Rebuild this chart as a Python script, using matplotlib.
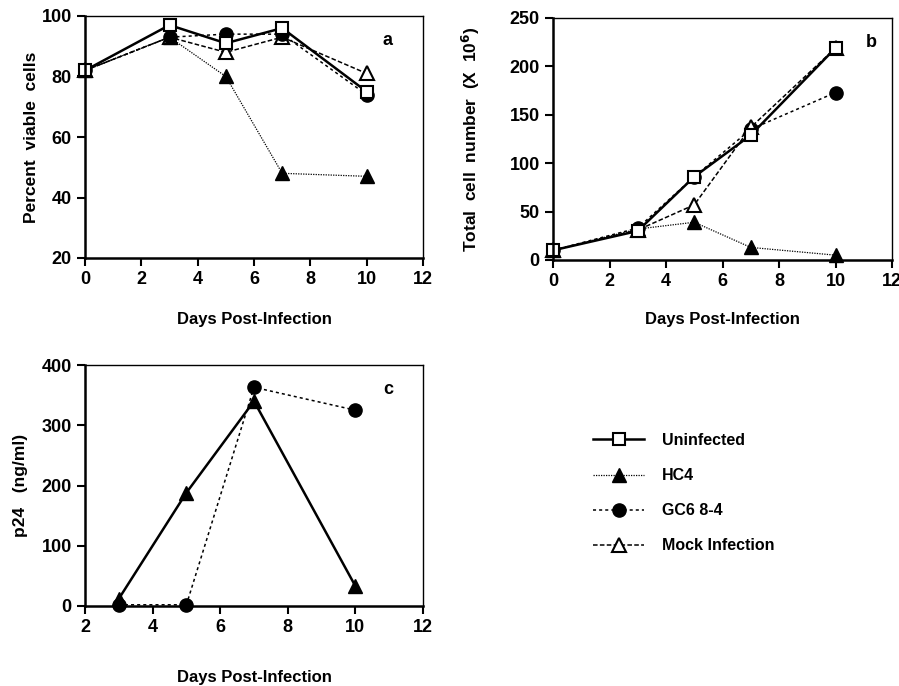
"""Viability, cell count and p24 time courses (panels a, b, c)."""

import matplotlib
matplotlib.use("Agg")
import matplotlib.pyplot as plt
from matplotlib.lines import Line2D

plt.rcParams["font.family"] = ["Liberation Sans", "DejaVu Sans"]
plt.rcParams["font.weight"] = "bold"
plt.rcParams["mathtext.default"] = "regular"

days = [0, 3, 5, 7, 10]

# panel a: percent viable cells
viab_uninf = [82, 97, 91, 96, 75]
viab_hc4 = [82, 93, 80, 48, 47]
viab_gc6 = [82, 93, 94, 94, 74]
viab_mock = [82, 93, 88, 93, 81]

# panel b: total cell number (x 10^6)
cells_uninf = [10, 30, 86, 129, 219]
cells_hc4 = [10, 32, 39, 13, 5]
cells_gc6 = [10, 33, 86, 135, 173]
cells_mock = [10, 31, 57, 137, 219]

# panel c: p24 (ng/ml)
p24_days = [3, 5, 7, 10]
p24_hc4 = [12, 188, 340, 33]
p24_gc6 = [2, 2, 363, 325]

labels = ["Uninfected", "HC4", "GC6 8-4", "Mock Infection"]

STYLES = {
    "Uninfected": dict(color="black", lw=1.8, ls="-", marker="s", ms=9, mfc="white", mec="black", mew=1.5),
    "HC4": dict(color="black", lw=0.9, ls=(0, (1, 1)), marker="^", ms=10, mfc="black", mec="black"),
    "GC6 8-4": dict(color="black", lw=1.1, ls=(0, (2, 2)), marker="o", ms=9.5, mfc="black", mec="black"),
    "Mock Infection": dict(color="black", lw=1.1, ls=(0, (3, 1.5)), marker="^", ms=10, mfc="white", mec="black", mew=1.5),
}


def style_axes(ax, xlim, ylim, yticks, xticks, letter, letter_x, xpad):
    ax.set_xlim(*xlim)
    ax.set_ylim(*ylim)
    ax.set_xticks(xticks)
    ax.set_yticks(yticks)
    ax.tick_params(direction="out", length=6, width=1.5, labelsize=13, top=False, right=False)
    for lab in ax.get_xticklabels() + ax.get_yticklabels():
        lab.set_fontweight("bold")
    for side in ["left", "bottom"]:
        ax.spines[side].set_linewidth(1.8)
    for side in ["top", "right"]:
        ax.spines[side].set_linewidth(1.0)
    ax.text(letter_x, 0.9, letter, transform=ax.transAxes, fontsize=13, fontweight="bold",
            ha="center", va="center")
    ax.set_xlabel("Days Post-Infection", fontsize=12, fontweight="bold", labelpad=xpad)


def draw(ax, x, ys, name, **extra):
    ax.plot(x, ys, clip_on=False, **dict(STYLES[name], **extra))


fig = plt.figure(figsize=(8.99, 6.86), dpi=100)
W, H = 899, 686

ax_a = fig.add_axes([85 / W, 1 - 258 / H, 338 / W, 242 / H])
ax_b = fig.add_axes([553 / W, 1 - 260 / H, 339 / W, 242 / H])
ax_c = fig.add_axes([85 / W, 1 - 606 / H, 338 / W, 241 / H])

draw(ax_a, days, viab_hc4, "HC4")
draw(ax_a, days, viab_mock, "Mock Infection")
draw(ax_a, days, viab_gc6, "GC6 8-4")
draw(ax_a, days, viab_uninf, "Uninfected")
style_axes(ax_a, (0, 12), (20, 100), [20, 40, 60, 80, 100], range(0, 13, 2), "a", 0.896, 17)
ax_a.set_ylabel("Percent  viable  cells", fontsize=12.5, fontweight="bold", labelpad=2)

draw(ax_b, days, cells_hc4, "HC4")
draw(ax_b, days, cells_gc6, "GC6 8-4")
draw(ax_b, days, cells_mock, "Mock Infection")
draw(ax_b, days, cells_uninf, "Uninfected")
style_axes(ax_b, (0, 12), (0, 250), [0, 50, 100, 150, 200, 250], range(0, 13, 2), "b", 0.94, 16)
ax_b.set_ylabel(r"Total  cell  number  (X  10$^{\mathbf{6}}$)", fontsize=12.5, fontweight="bold", labelpad=20)

draw(ax_c, p24_days, p24_gc6, "GC6 8-4", zorder=2)
draw(ax_c, p24_days, p24_hc4, "HC4", lw=1.8, ls="-", zorder=3)
style_axes(ax_c, (2, 12), (0, 400), [0, 100, 200, 300, 400], range(2, 13, 2), "c", 0.896, 24)
ax_c.set_ylabel("p24   (ng/ml)", fontsize=12.5, fontweight="bold", labelpad=10)

handles = [Line2D([], [], **STYLES[n]) for n in labels]
fig.legend(handles, labels, loc="upper left", bbox_to_anchor=(585 / W, 1 - 425 / H),
           frameon=False, prop={"weight": "bold", "size": 11.5}, labelspacing=1.26,
           handlelength=3.2, handletextpad=1.1, borderpad=0)

fig.savefig("out.png", dpi=100)
